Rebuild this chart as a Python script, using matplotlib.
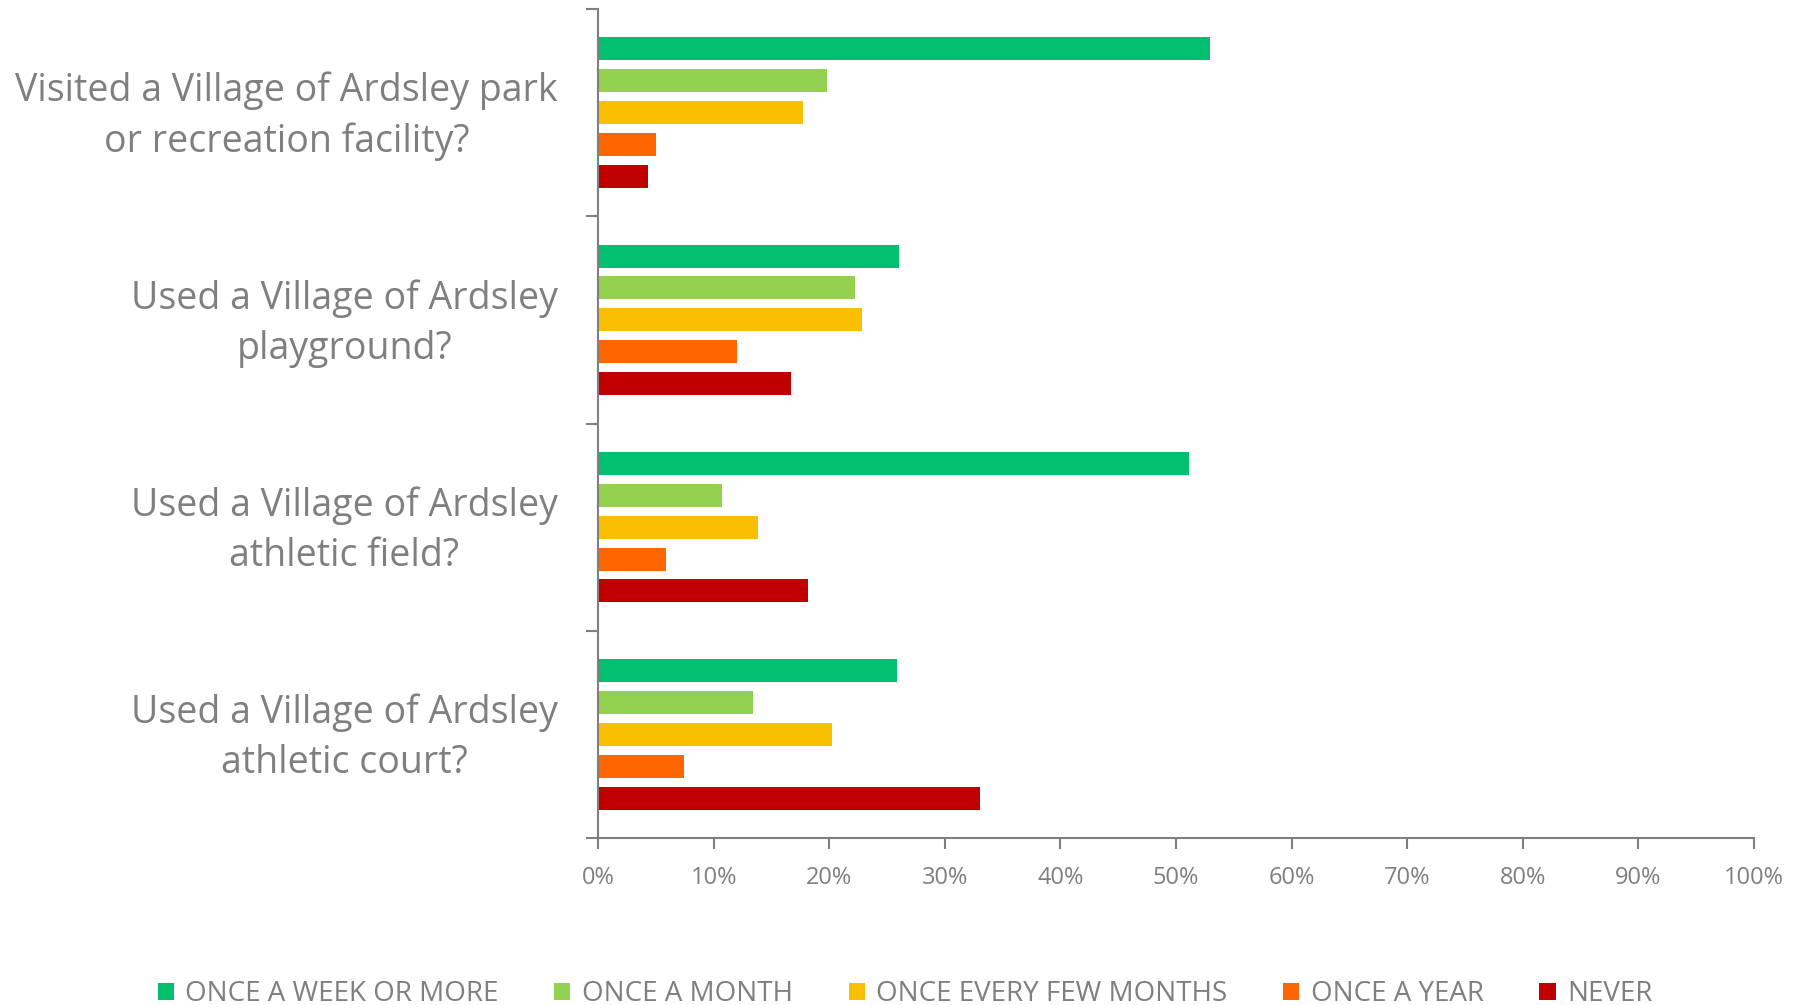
import numpy as np
import matplotlib.pyplot as plt
import matplotlib.transforms as mtransforms
from matplotlib.ticker import PercentFormatter

questions = [
    "Visited a Village of Ardsley park\nor recreation facility?",
    "Used a Village of Ardsley\nplayground?",
    "Used a Village of Ardsley\nathletic field?",
    "Used a Village of Ardsley\nathletic court?",
]
series = ["ONCE A WEEK OR MORE", "ONCE A MONTH", "ONCE EVERY FEW MONTHS", "ONCE A YEAR", "NEVER"]
colors = ["#00BF6F", "#92D050", "#FAC000", "#FF6600", "#C00000"]

once_week = [52.9, 26.0, 51.1, 25.9]
once_month = [19.8, 22.2, 10.7, 13.4]
few_months = [17.7, 22.8, 13.8, 20.2]
once_year = [5.0, 12.0, 5.9, 7.4]
never = [4.3, 16.7, 18.2, 33.0]
values = [once_week, once_month, few_months, once_year, never]

gray = "#7F7F7F"
plt.rcParams['font.family'] = ['Open Sans', 'DejaVu Sans']

fig = plt.figure(figsize=(18.03, 10.05), dpi=100)
ax = fig.add_axes([0.3317, 0.1662, 0.6411, 0.8248])

y = np.arange(len(questions))
step = 0.154
for i, (name, vals) in enumerate(zip(series, values)):
    ax.barh(y + (i - 2) * step, vals, height=0.111, color=colors[i], label=name)

ax.set_ylim(len(questions) - 0.5, -0.5)
ax.set_xlim(0, 100)
ax.set_yticks(np.arange(-0.5, len(questions) + 0.5, 1))
ax.set_yticklabels([])
ax.set_yticks(y, questions, minor=True)
ax.tick_params(axis='y', which='minor', length=0, pad=29, labelsize=27, labelcolor=gray)
ax.tick_params(axis='y', which='major', length=9, width=1.5, color=gray)
shift = mtransforms.ScaledTranslation(0, 5 / 72, fig.dpi_scale_trans)
for lab in ax.get_yticklabels(minor=True):
    lab.set_multialignment('center')
    lab.set_linespacing(1.42)
    lab.set_transform(lab.get_transform() + shift)

ax.set_xticks(np.arange(0, 101, 10))
ax.xaxis.set_major_formatter(PercentFormatter(decimals=0))
ax.tick_params(axis='x', length=8, width=1.5, color=gray, labelsize=17, labelcolor=gray, pad=12)

for side in ['top', 'right']:
    ax.spines[side].set_visible(False)
for side in ['left', 'bottom']:
    ax.spines[side].set_color(gray)
    ax.spines[side].set_linewidth(1.5)

fig.legend(loc='center', bbox_to_anchor=(0.502, 0.0105), ncol=5, frameon=False,
           fontsize=20, labelcolor=gray, handlelength=0.58, handleheight=0.58,
           handletextpad=0.42, columnspacing=2.0)

fig.savefig("out.png", dpi=100)
